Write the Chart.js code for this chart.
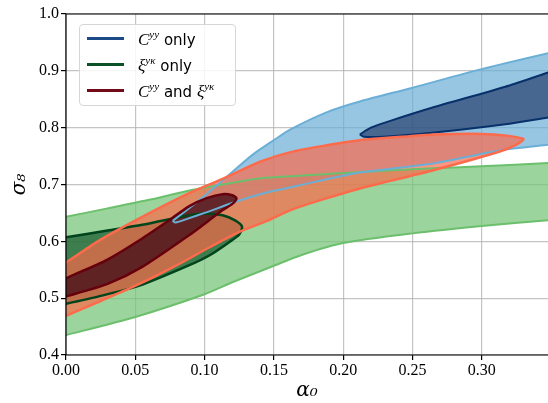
<!DOCTYPE html>
<html>
<head>
<meta charset="utf-8">
<script src="https://cdn.jsdelivr.net/npm/chart.js@4.4.1/dist/chart.umd.min.js"></script>
<style>
  html, body { margin: 0; padding: 0; background: #fff; }
  #wrap { position: relative; width: 548px; height: 403px; }
  #legend {
    position: absolute; left: 79px; top: 24px; width: 155px; height: 80px;
    border: 1px solid #d6d6d6; border-radius: 4px; background: rgba(255,255,255,0.85);
  }
  .item { position: absolute; left: 0; height: 20px; }
  .swatch { position: absolute; left: 7px; width: 37px; height: 3px; }
  .label { position: absolute; left: 58px; white-space: nowrap; font: 15px "DejaVu Sans", sans-serif; color: #000; }
  .label i { font: italic 17px "Liberation Serif", serif; }
  .label sup { font: italic 11px "Liberation Serif", serif; vertical-align: 7px; }
</style>
</head>
<body>
<div id="wrap">
  <canvas id="chart" width="548" height="403"></canvas>
  <div id="legend"></div>
</div>
<script>
// Axis ticks
const xTicks = [0, 0.05, 0.10, 0.15, 0.20, 0.25, 0.30];
const yTicks = [0.4, 0.5, 0.6, 0.7, 0.8, 0.9, 1.0];

// xi^{y kappa} only, 2 sigma (light green) - closed outline
const xiOuterX = [-0.01, 0, 0.03, 0.06, 0.09, 0.12, 0.14, 0.18, 0.22, 0.26, 0.30, 0.348, 0.36,
                  0.36, 0.348, 0.30, 0.25, 0.20, 0.17, 0.15, 0.12, 0.10, 0.05, 0, -0.01];
const xiOuterY = [0.638, 0.643, 0.658, 0.673, 0.690, 0.703, 0.711, 0.717, 0.723, 0.728, 0.732, 0.738, 0.740,
                  0.640, 0.637, 0.627, 0.614, 0.597, 0.576, 0.557, 0.528, 0.507, 0.467, 0.435, 0.429];

// xi^{y kappa} only, 1 sigma (dark green)
const xiInnerX = [-0.01, 0, 0.03, 0.055, 0.089, 0.10, 0.113, 0.122, 0.127,
                  0.125, 0.118, 0.104, 0.089, 0.053, 0.025, 0, -0.01];
const xiInnerY = [0.603, 0.607, 0.619, 0.629, 0.646, 0.649, 0.646, 0.637, 0.626,
                  0.612, 0.599, 0.576, 0.558, 0.522, 0.504, 0.490, 0.485];

// C^{yy} only, 2 sigma (light blue)
const cOuterX = [0.077, 0.10, 0.12, 0.135, 0.15, 0.162, 0.188, 0.212, 0.248, 0.30, 0.348, 0.36,
                 0.36, 0.348, 0.313, 0.265, 0.212, 0.169, 0.14, 0.123, 0.10, 0.088, 0.079, 0.077];
const cOuterY = [0.636, 0.680, 0.722, 0.753, 0.778, 0.797, 0.827, 0.846, 0.869, 0.903, 0.931, 0.937,
                 0.773, 0.770, 0.760, 0.737, 0.721, 0.699, 0.683, 0.670, 0.650, 0.640, 0.633, 0.636];

// C^{yy} only, 1 sigma (dark blue)
const cInnerX = [0.212, 0.22, 0.234, 0.264, 0.317, 0.348, 0.36,
                 0.36, 0.348, 0.317, 0.264, 0.229, 0.215, 0.212];
const cInnerY = [0.788, 0.800, 0.812, 0.835, 0.872, 0.897, 0.906,
                 0.822, 0.818, 0.806, 0.791, 0.784, 0.784, 0.788];

// C^{yy} and xi^{y kappa}, 2 sigma (orange)
const combOuterX = [-0.01, 0, 0.025, 0.055, 0.09, 0.115, 0.14, 0.162, 0.188, 0.212, 0.248, 0.265, 0.30, 0.318, 0.33,
                    0.325, 0.313, 0.265, 0.212, 0.183, 0.162, 0.145, 0.1255, 0.104, 0.08, 0.053, 0.025, 0, -0.01];
const combOuterY = [0.548, 0.563, 0.603, 0.643, 0.686, 0.712, 0.740, 0.757, 0.769, 0.778, 0.785, 0.788, 0.789, 0.786, 0.780,
                    0.770, 0.758, 0.725, 0.693, 0.672, 0.655, 0.636, 0.617, 0.590, 0.558, 0.525, 0.495, 0.469, 0.458];

// C^{yy} and xi^{y kappa}, 1 sigma (dark red)
const combInnerX = [-0.01, 0, 0.03, 0.055, 0.075, 0.089, 0.1015, 0.113, 0.12, 0.123,
                    0.12, 0.113, 0.099, 0.089, 0.055, 0.03, 0, -0.01];
const combInnerY = [0.522, 0.535, 0.568, 0.605, 0.638, 0.662, 0.676, 0.683, 0.681, 0.676,
                    0.666, 0.655, 0.629, 0.611, 0.555, 0.525, 0.503, 0.497];

const legendLabels = ['<i>C</i><sup>yy</sup> only', '<i>ξ</i><sup>yκ</sup> only', '<i>C</i><sup>yy</sup> and <i>ξ</i><sup>yκ</sup>'];
const legendColors = ['#1c4a86', '#0b5228', '#720a18'];

const toPoints = (xs, ys) => xs.map((x, i) => ({ x, y: ys[i] }));

function contour(xs, ys, fill, line, width) {
  return {
    data: toPoints(xs, ys),
    showLine: true,
    fill: 'shape',
    backgroundColor: fill,
    borderColor: line,
    borderWidth: width,
    pointRadius: 0,
    tension: 0.25,
    clip: 0,
  };
}

// Dataset 0 is drawn on top
const datasets = [
  contour(combInnerX, combInnerY, 'rgba(71,17,26,0.8)', '#67000d', 2.5),
  contour(combOuterX, combOuterY, 'rgba(251,106,74,0.7)', '#fc6b4c', 2.5),
  contour(cInnerX, cInnerY, 'rgba(20,40,90,0.6)', '#08306b', 2),
  contour(cOuterX, cOuterY, 'rgba(107,174,214,0.7)', '#6baed6', 2),
  contour(xiInnerX, xiInnerY, 'rgba(0,68,27,0.6)', '#00441b', 2.5),
  contour(xiOuterX, xiOuterY, 'rgba(116,196,118,0.72)', '#6cbf6c', 2),
];

// Black frame on left, top and bottom (right side is cropped in the reference)
const framePlugin = {
  id: 'frame',
  afterDatasetsDraw(chart) {
    const { ctx, chartArea: a } = chart;
    ctx.save();
    ctx.strokeStyle = '#000';
    ctx.lineWidth = 1.2;
    ctx.beginPath();
    ctx.moveTo(a.right + 1, a.top);
    ctx.lineTo(a.left, a.top);
    ctx.lineTo(a.left, a.bottom);
    ctx.lineTo(a.right + 1, a.bottom);
    ctx.stroke();
    ctx.restore();
  },
};

const tickFont = { family: 'Liberation Serif', size: 16 };
const gridOpts = { color: 'rgba(176,176,176,0.75)', lineWidth: 1.2, tickColor: '#000', tickLength: 5, tickWidth: 1.2 };

new Chart(document.getElementById('chart'), {
  type: 'scatter',
  data: { datasets },
  plugins: [framePlugin],
  options: {
    responsive: false,
    animation: false,
    layout: { padding: { top: 14, right: 0, left: 0, bottom: 0 } },
    plugins: {
      legend: { display: false },
      tooltip: { enabled: false },
      filler: { drawTime: 'beforeDatasetsDraw' },
    },
    scales: {
      x: {
        type: 'linear',
        min: 0,
        max: 0.3478,
        afterBuildTicks: (s) => { s.ticks = xTicks.map((v) => ({ value: v })); },
        afterFit: (s) => { s.height = 48; },
        ticks: { callback: (v) => v.toFixed(2), font: tickFont, color: '#000', padding: 1, maxRotation: 0, autoSkip: false },
        grid: gridOpts,
        border: { display: false },
        title: { display: true, text: 'α₀', color: '#000', font: { family: 'DejaVu Serif', size: 20, style: 'italic' }, padding: { top: 0, bottom: 0 } },
      },
      y: {
        min: 0.4,
        max: 1.0,
        afterBuildTicks: (s) => { s.ticks = yTicks.map((v) => ({ value: v })); },
        afterFit: (s) => { s.width = 66; },
        ticks: { callback: (v) => v.toFixed(1), font: tickFont, color: '#000', padding: 2, autoSkip: false },
        grid: gridOpts,
        border: { display: false },
        title: { display: true, text: 'σ₈', color: '#000', font: { family: 'DejaVu Serif', size: 20, style: 'italic' }, padding: { top: 8, bottom: 0 } },
      },
    },
  },
});

// HTML legend (needs superscripts)
const legend = document.getElementById('legend');
legendLabels.forEach((lab, i) => {
  const item = document.createElement('div');
  item.className = 'item';
  item.style.top = (3 + i * 26) + 'px';
  item.innerHTML = `<div class="swatch" style="top:9px;background:${legendColors[i]}"></div>
    <div class="label" style="top:0">${lab}</div>`;
  legend.appendChild(item);
});
</script>
</body>
</html>
